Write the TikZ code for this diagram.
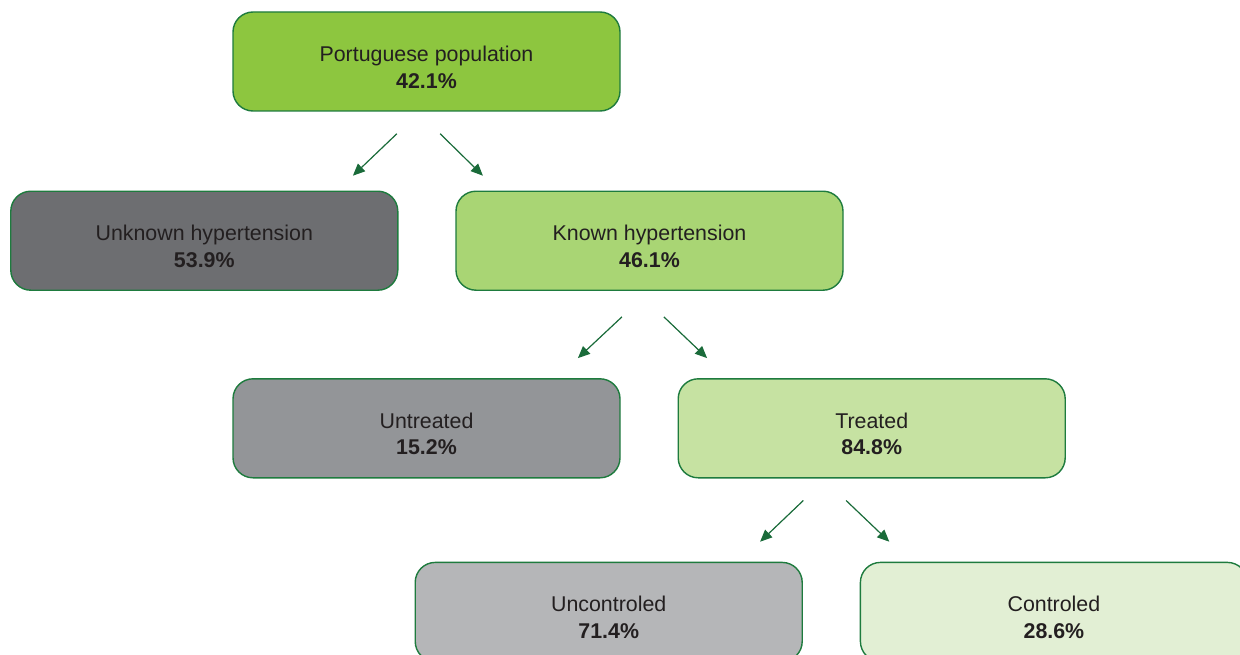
\documentclass[tikz,border=0pt]{standalone}
\usepackage{fontspec}
\setmainfont{Liberation Sans}
\usetikzlibrary{arrows.meta, positioning}

\definecolor{edgegreen}{HTML}{1E7B3E}
\definecolor{arrowgreen}{HTML}{1A6B3A}
\definecolor{txtgray}{HTML}{231F20}
\definecolor{green1}{HTML}{8DC63F}
\definecolor{green2}{HTML}{A9D574}
\definecolor{green3}{HTML}{C6E2A2}
\definecolor{green4}{HTML}{E2EFD4}
\definecolor{gray1}{HTML}{6D6E71}
\definecolor{gray2}{HTML}{939598}
\definecolor{gray3}{HTML}{B5B6B8}

% two-line box text, pushed a little below the middle
\newcommand\boxtxt[2]{\rule{0pt}{19pt}#1\\ \textbf{#2}}

\begin{document}
\begin{tikzpicture}[
    box/.style={draw=edgegreen, line width=1pt, rounded corners=5mm, align=center,
                minimum width=9.675cm, minimum height=2.475cm, inner sep=0pt,
                text=txtgray, font=\fontsize{15.2}{19}\selectfont},
    >={Triangle[length=3mm, width=2.6mm]},
    link/.style={->, draw=arrowgreen, fill=arrowgreen, line width=0.85pt}]
  \useasboundingbox (0,0) rectangle (31,-16.375);
  \clip (0,0) rectangle (31,-16.375);

  \node[box, fill=green1] (top) at (10.6625,-1.5375) {\boxtxt{Portuguese population}{42.1\%}};
  \node[box, fill=green2, below=1.97cm of top, xshift=5.575cm] (known) {\boxtxt{Known hypertension}{46.1\%}};
  \node[box, fill=gray1, left=1.42cm of known] (unknown) {\boxtxt{Unknown hypertension}{53.9\%}};
  \node[box, fill=gray2, below=2.18cm of known, xshift=-5.575cm] (untreated) {\boxtxt{Untreated}{15.2\%}};
  \node[box, fill=green3, right=1.42cm of untreated] (treated) {\boxtxt{Treated}{84.8\%}};
  \node[box, fill=gray3, below=2.08cm of treated, xshift=-6.575cm] (unctrl) {\boxtxt{Uncontroled}{71.4\%}};
  \node[box, fill=green4, right=1.42cm of unctrl] (ctrl) {\boxtxt{Controled}{28.6\%}};

  % arrow ends under each parent box
  \coordinate (topL) at ([shift={(-0.74,-0.55)}]top.south);
  \coordinate (topLe) at ([shift={(-1.84,-1.6)}]top.south);
  \coordinate (topR) at ([shift={(0.34,-0.55)}]top.south);
  \coordinate (topRe) at ([shift={(1.41,-1.6)}]top.south);
  \coordinate (knownL) at ([shift={(-0.69,-0.65)}]known.south);
  \coordinate (knownLe) at ([shift={(-1.79,-1.68)}]known.south);
  \coordinate (knownR) at ([shift={(0.36,-0.65)}]known.south);
  \coordinate (knownRe) at ([shift={(1.44,-1.68)}]known.south);
  \coordinate (treatL) at ([shift={(-1.71,-0.55)}]treated.south);
  \coordinate (treatLe) at ([shift={(-2.79,-1.58)}]treated.south);
  \coordinate (treatR) at ([shift={(-0.64,-0.55)}]treated.south);
  \coordinate (treatRe) at ([shift={(0.44,-1.58)}]treated.south);

  \draw[link] (topL) -- (topLe);
  \draw[link] (topR) -- (topRe);
  \draw[link] (knownL) -- (knownLe);
  \draw[link] (knownR) -- (knownRe);
  \draw[link] (treatL) -- (treatLe);
  \draw[link] (treatR) -- (treatRe);
\end{tikzpicture}
\end{document}
